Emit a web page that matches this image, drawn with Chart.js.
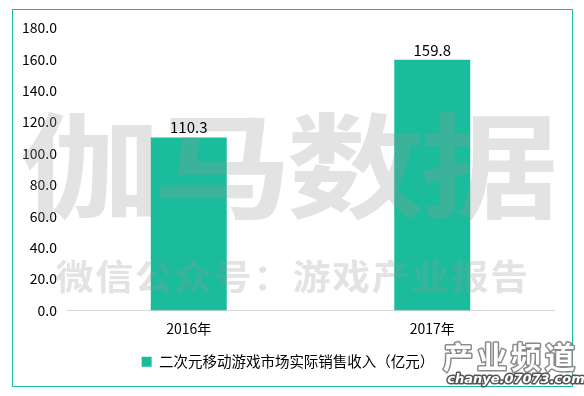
<!DOCTYPE html>
<html>
<head>
<meta charset="utf-8">
<style>
  html, body { margin: 0; padding: 0; background: #fff; }
  #wrap { width: 584px; height: 396px; position: relative; }
</style>
<script src="https://cdn.jsdelivr.net/npm/chart.js@4.4.1/dist/chart.umd.min.js"></script>
</head>
<body>
<div id="wrap"><canvas id="c" width="584" height="396"></canvas></div>
<script>
// Market data
const categories = ['2016年', '2017年'];
const revenue = [110.3, 159.8];
const seriesName = '二次元移动游戏市场实际销售收入（亿元）';
const yMin = 0;
const yMax = 180;
const yStep = 20;

// Brand texts
const watermarkMain = ['伽', '马', '数', '据'];
const watermarkSub = '微信公众号：游戏产业报告';
const logoTitle = '产业频道';
const logoUrl = 'chanye.07073.com';

const TEAL = '#1ABC9C';
const FONT = '"Microsoft YaHei", "Noto Sans CJK SC", sans-serif';

// White background and teal frame
const framePlugin = {
  id: 'frame',
  beforeDraw(chart) {
    const ctx = chart.ctx;
    ctx.save();
    ctx.fillStyle = '#fff';
    ctx.fillRect(0, 0, chart.width, chart.height);
    ctx.strokeStyle = TEAL;
    ctx.lineWidth = 1;
    ctx.strokeRect(12.5, 9.5, 560, 377);
    ctx.restore();
  }
};

// Translucent brand watermark laid over the plot
const watermarkPlugin = {
  id: 'watermark',
  afterDatasetsDraw(chart) {
    const ctx = chart.ctx;
    ctx.save();
    ctx.fillStyle = 'rgba(150,150,150,0.27)';
    ctx.textAlign = 'center';
    ctx.textBaseline = 'middle';
    ctx.font = '700 114px ' + FONT;
    const pitch = 133.3;
    watermarkMain.forEach((ch, i) => {
      ctx.save();
      ctx.translate(89.5 + i * pitch, 166);
      ctx.scale(1.22, 1);
      ctx.fillText(ch, 0, 0);
      ctx.restore();
    });
    ctx.font = '700 35px ' + FONT;
    Array.from(watermarkSub).forEach((ch, i) => {
      ctx.save();
      ctx.translate(74.75 + i * 39.5, 277);
      ctx.scale(1.08, 1);
      ctx.fillText(ch, 0, 0);
      ctx.restore();
    });
    ctx.restore();
  }
};

// Value labels above each bar
const valueLabelPlugin = {
  id: 'valueLabels',
  afterDatasetsDraw(chart) {
    const ctx = chart.ctx;
    ctx.save();
    ctx.fillStyle = '#000';
    ctx.font = '15px ' + FONT;
    ctx.textAlign = 'center';
    ctx.textBaseline = 'alphabetic';
    chart.data.datasets.forEach((ds, di) => {
      chart.getDatasetMeta(di).data.forEach((bar, i) => {
        ctx.fillText(ds.data[i].toFixed(1), bar.x, bar.y - 4);
      });
    });
    ctx.restore();
  }
};

// Site logo in the lower right corner
const logoPlugin = {
  id: 'logo',
  afterDraw(chart) {
    const ctx = chart.ctx;
    ctx.save();
    ctx.textAlign = 'center';
    ctx.textBaseline = 'middle';
    ctx.lineJoin = 'round';
    ctx.font = '700 30px ' + FONT;
    Array.from(logoTitle).forEach((ch, i) => {
      const x = 458 + i * 34;
      ctx.strokeStyle = '#8a8a8a';
      ctx.lineWidth = 3;
      ctx.strokeText(ch, x, 357);
      ctx.fillStyle = '#fff';
      ctx.fillText(ch, x, 357);
    });
    ctx.font = 'italic 700 13px "DejaVu Sans", sans-serif';
    ctx.strokeStyle = '#555';
    ctx.lineWidth = 3;
    ctx.strokeText(logoUrl, 516, 380);
    ctx.fillStyle = '#fff';
    ctx.fillText(logoUrl, 516, 380);
    ctx.restore();
  }
};

new Chart(document.getElementById('c'), {
  type: 'bar',
  data: {
    labels: categories,
    datasets: [{
      label: seriesName,
      data: revenue,
      backgroundColor: TEAL,
      borderWidth: 0,
      categoryPercentage: 0.8,
      barPercentage: 0.39
    }]
  },
  options: {
    responsive: false,
    animation: false,
    devicePixelRatio: 1,
    layout: { padding: { left: 22, right: 30, top: 28, bottom: 17 } },
    scales: {
      x: {
        grid: { display: false, drawTicks: false },
        border: { display: true, color: '#d9d9d9', width: 1 },
        ticks: { color: '#000', font: { family: FONT, size: 14 }, padding: 10 },
        afterFit(s) { s.height = 34; }
      },
      y: {
        min: yMin,
        max: yMax,
        grid: { display: false, drawTicks: false },
        border: { display: false },
        ticks: {
          stepSize: yStep,
          color: '#000',
          font: { family: FONT, size: 14 },
          padding: 10,
          callback: v => Number(v).toFixed(1)
        },
        afterFit(s) { s.width = 45; }
      }
    },
    plugins: {
      legend: {
        position: 'bottom',
        labels: {
          boxWidth: 10,
          boxHeight: 10,
          color: '#000',
          font: { family: FONT, size: 14.5 },
          padding: 10
        }
      },
      tooltip: { enabled: false }
    }
  },
  plugins: [framePlugin, watermarkPlugin, valueLabelPlugin, logoPlugin]
});
</script>
</body>
</html>
